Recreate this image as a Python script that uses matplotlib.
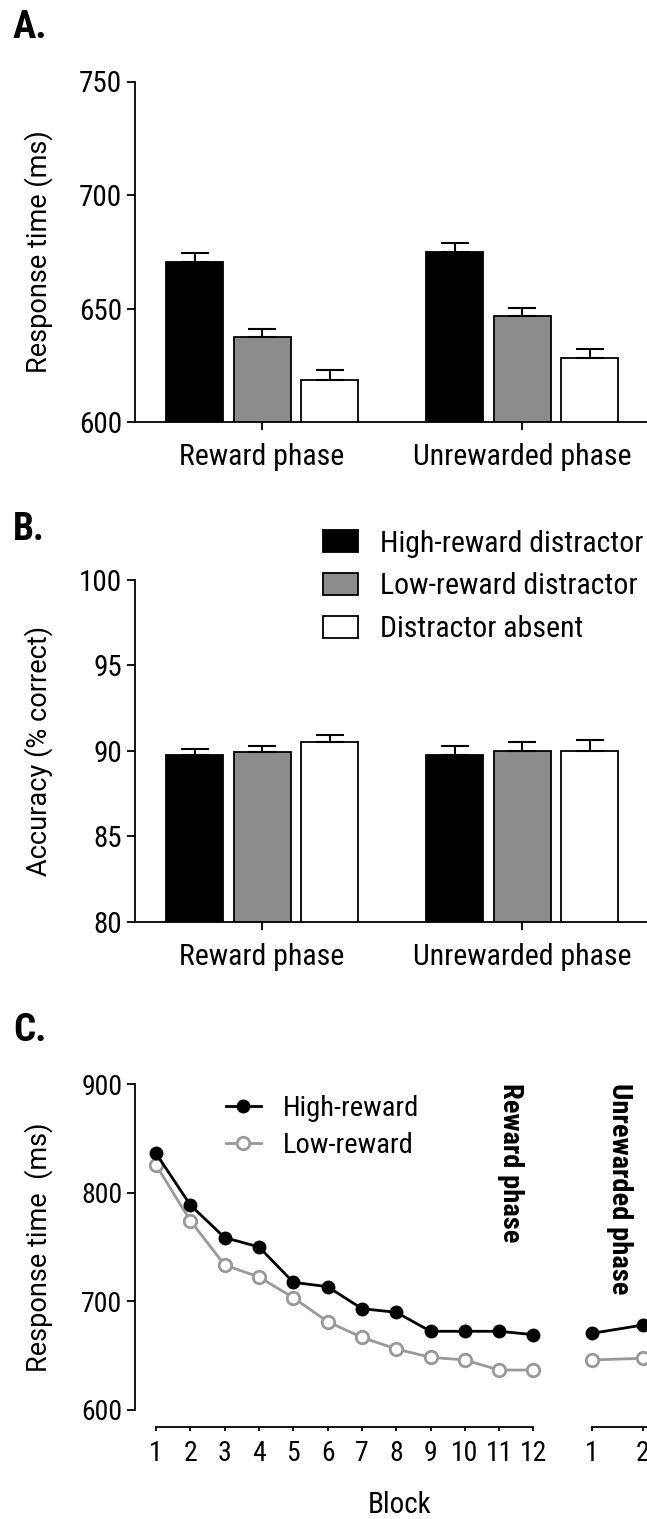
import matplotlib
matplotlib.use('Agg')
import matplotlib.pyplot as plt
from matplotlib import font_manager as fm
import numpy as np

def pick(cands):
    for c in cands:
        try:
            fm.findfont(fm.FontProperties(family=c), fallback_to_default=False)
            return c
        except Exception:
            pass
    return 'DejaVu Sans'

COND = pick(['Roboto Condensed', 'Liberation Sans Narrow', 'DejaVu Sans Condensed', 'Roboto'])
REG = pick(['Roboto', 'Open Sans', 'DejaVu Sans'])
plt.rcParams['font.family'] = [COND, 'DejaVu Sans']

# ---------------- data ----------------
phases = ['Reward phase', 'Unrewarded phase']
conditions = ['High-reward distractor', 'Low-reward distractor', 'Distractor absent']
bar_colors = ['#000000', '#8c8c8c', '#ffffff']

rt_high = [670.7, 674.9]
rt_high_se = [3.6, 3.9]
rt_low = [637.3, 646.5]
rt_low_se = [3.5, 3.9]
rt_abs = [618.3, 628.1]
rt_abs_se = [4.8, 4.2]

acc_high = [89.77, 89.77]
acc_high_se = [0.33, 0.50]
acc_low = [89.96, 90.02]
acc_low_se = [0.31, 0.47]
acc_abs = [90.51, 89.98]
acc_abs_se = [0.41, 0.64]

blocks_reward = [1, 2, 3, 4, 5, 6, 7, 8, 9, 10, 11, 12]
block_rt_high = [836.4, 788.8, 758.8, 750.2, 717.6, 713.6, 693.3, 690.0, 672.5, 672.5, 672.5, 669.4]
block_rt_low = [825.7, 774.4, 733.6, 722.5, 703.5, 681.4, 666.9, 656.2, 648.5, 646.1, 636.8, 636.8]
blocks_unrew = [1, 2]
block_rt_high_unrew = [670.6, 678.3]
block_rt_low_unrew = [646.1, 647.6]

# ---------------- figure ----------------
W, H = 647, 1519
fig = plt.figure(figsize=(W / 100, H / 100), dpi=100)

def fx(px):
    return px / W

def fy(py):
    return 1 - py / H

LW = 1.3
TICK_FS_AB = 21
CAT_FS = 21.5
YLAB_FS = 19.5
x = np.arange(len(phases))
offs = [-0.2596, 0.0, 0.2596]
bw = 0.219

def bar_panel(ax, means, ses, ylim, yticks, ylabel):
    conts = []
    for i, (m, s) in enumerate(zip(means, ses)):
        c = ax.bar(x + offs[i], m, width=bw, color=bar_colors[i], edgecolor='black',
                   linewidth=LW, yerr=[np.zeros(len(s)), s], capsize=10.3,
                   error_kw=dict(elinewidth=1.5, capthick=1.5, ecolor='black'),
                   label=conditions[i], zorder=2)
        conts.append(c)
    ax.set_ylim(*ylim)
    ax.set_xlim(-0.4885, 1.48)
    ax.set_yticks(yticks)
    ax.set_xticks(x)
    ax.set_xticklabels(phases, fontsize=CAT_FS)
    for sp in ['top', 'right']:
        ax.spines[sp].set_visible(False)
    for sp in ['left', 'bottom']:
        ax.spines[sp].set_linewidth(LW)
    ax.tick_params(axis='both', length=5.8, width=LW)
    ax.tick_params(axis='y', pad=3.6, labelsize=TICK_FS_AB)
    ax.tick_params(axis='x', pad=9.5)
    ax.set_ylabel(ylabel, family=[REG, 'DejaVu Sans'], fontsize=YLAB_FS)
    ax.yaxis.set_label_coords((39 - 135) / 512, 0.5)
    ax.yaxis.label.set_va('center')
    return conts

# Panel A
axA = fig.add_axes([fx(135), fy(422), fx(512), (422 - 81.5) / H])
bar_panel(axA, [rt_high, rt_low, rt_abs], [rt_high_se, rt_low_se, rt_abs_se],
          (600, 750), [600, 650, 700, 750], 'Response time (ms)')

# Panel B
axB = fig.add_axes([fx(135), fy(921.7), fx(512), (921.7 - 580) / H])
contsB = bar_panel(axB, [acc_high, acc_low, acc_abs], [acc_high_se, acc_low_se, acc_abs_se],
                   (80, 100), [80, 85, 90, 95, 100], 'Accuracy (% correct)')
axB.legend(handles=contsB, labels=conditions, loc='upper left',
           bbox_to_anchor=(fx(322.7), fy(529.5)), bbox_transform=fig.transFigure,
           frameon=False, borderpad=0, borderaxespad=0, fontsize=21.5,
           handlelength=1.17, handleheight=0.74, handletextpad=0.74, labelspacing=0.5)

# Panel C
GRAY = '#999999'
TICK_FS_C = 20
axC = fig.add_axes([fx(135), fy(1410), fx(560 - 135), (1410 - 1084.3) / H])
axC.plot(blocks_reward, block_rt_high, color='black', lw=2, marker='o', ms=9,
         mfc='black', mec='black', label='High-reward', zorder=3)
axC.plot(blocks_reward, block_rt_low, color=GRAY, lw=2, marker='o', ms=9,
         mfc='white', mec=GRAY, mew=2, label='Low-reward', zorder=2)
axC.set_ylim(600, 900)
axC.set_xlim(1 - 21 / 34.3, 12 + 26.5 / 34.3)
axC.set_yticks([600, 700, 800, 900])
axC.set_xticks(blocks_reward)
for sp in ['top', 'right']:
    axC.spines[sp].set_visible(False)
for sp in ['left', 'bottom']:
    axC.spines[sp].set_linewidth(LW)
axC.spines['bottom'].set_position(('outward', 12.5))
axC.spines['bottom'].set_bounds(1, 12)
axC.tick_params(axis='both', width=LW, labelsize=TICK_FS_C)
axC.tick_params(axis='y', pad=3.6, length=5.5)
axC.tick_params(axis='x', pad=5.8, length=3.2)
axC.set_ylabel('Response time  (ms)', family=[REG, 'DejaVu Sans'], fontsize=YLAB_FS)
axC.yaxis.set_label_coords((39 - 135) / (560 - 135), 0.5)
axC.yaxis.label.set_va('center')
axC.legend(loc='upper left', bbox_to_anchor=(fx(225.7), fy(1094.5)),
           bbox_transform=fig.transFigure, frameon=False, borderpad=0,
           borderaxespad=0, fontsize=20.5, handlelength=1.23, handletextpad=0.77,
           labelspacing=0.36)
axC.text(fx(510), fy(1083), 'Reward phase', transform=fig.transFigure, rotation=-90,
         ha='center', va='top', fontsize=20.5, fontweight='bold')

# Unrewarded sub-axis
x0u = 580
axU = fig.add_axes([fx(x0u), fy(1410), fx(W - x0u), (1410 - 1084.3) / H])
axU.plot(blocks_unrew, block_rt_high_unrew, color='black', lw=2, marker='o', ms=9,
         mfc='black', mec='black', zorder=3, clip_on=False)
axU.plot(blocks_unrew, block_rt_low_unrew, color=GRAY, lw=2, marker='o', ms=9,
         mfc='white', mec=GRAY, mew=2, zorder=2, clip_on=False)
axU.set_ylim(600, 900)
axU.set_xlim(1 - (592 - x0u) / 51, 1 + (W - 592) / 51)
axU.set_xticks([1, 2])
axU.set_yticks([])
for sp in ['top', 'right', 'left']:
    axU.spines[sp].set_visible(False)
axU.spines['bottom'].set_linewidth(LW)
axU.spines['bottom'].set_position(('outward', 12.5))
axU.spines['bottom'].set_bounds(1, 4)
axU.tick_params(axis='x', length=3.2, width=LW, labelsize=TICK_FS_C, pad=5.8)
axU.text(fx(619), fy(1083), 'Unrewarded phase', transform=fig.transFigure, rotation=-90,
         ha='center', va='top', fontsize=20.5, fontweight='bold')

fig.text(fx(400), fy(1505), 'Block', ha='center', va='center', fontsize=21)

# panel labels
fig.text(fx(13), fy(38), 'A.', fontsize=28, fontweight='bold', va='baseline')
fig.text(fx(13), fy(540), 'B.', fontsize=27, fontweight='bold', va='baseline')
fig.text(fx(13), fy(1041), 'C.', fontsize=28, fontweight='bold', va='baseline')

fig.savefig('out.png', dpi=100)
